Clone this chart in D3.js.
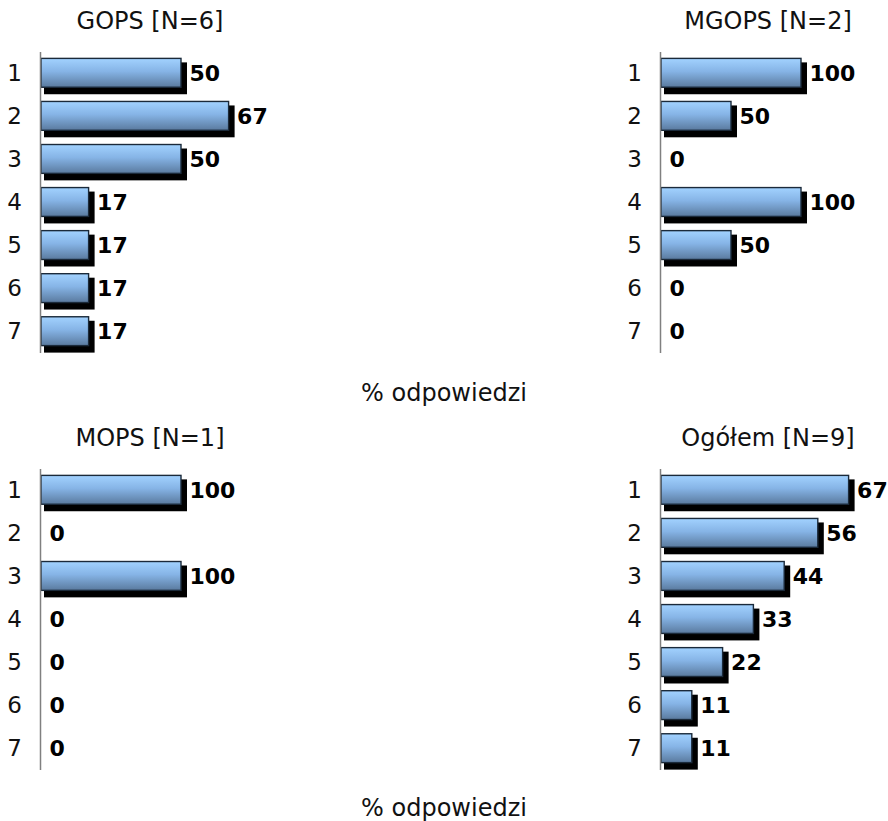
<!DOCTYPE html>
<html>
<head>
<meta charset="utf-8">
<script src="https://cdn.jsdelivr.net/npm/d3@7"></script>
<style>
  html, body { margin: 0; padding: 0; background: #fff; }
  svg { display: block; }
  text { font-family: "DejaVu Sans", Verdana, sans-serif; }
</style>
</head>
<body>
<svg id="chart" width="888" height="821"></svg>
<script>
// Answer categories (rows) shared by every panel
const categories = ["1", "2", "3", "4", "5", "6", "7"];

// Panel titles
const panelTitles = ["GOPS [N=6]", "MGOPS [N=2]", "MOPS [N=1]", "Ogółem [N=9]"];

// Percentage of answers per category, one array per panel
const gopsValues   = [50, 67, 50, 17, 17, 17, 17];
const mgopsValues  = [100, 50, 0, 100, 50, 0, 0];
const mopsValues   = [100, 0, 100, 0, 0, 0, 0];
const ogolemValues = [67, 56, 44, 33, 22, 11, 11];

// Upper end of each panel's value axis
const domainMax = [80, 160, 160, 80];

const axisTitle = "% odpowiedzi";

const series = [gopsValues, mgopsValues, mopsValues, ogolemValues];

const svg = d3.select("#chart");

// Bar fill: light blue at top fading to a darker steel blue
const defs = svg.append("defs");
const grad = defs.append("linearGradient")
  .attr("id", "barFill").attr("x1", 0).attr("y1", 0).attr("x2", 0).attr("y2", 1);
grad.append("stop").attr("offset", "0%").attr("stop-color", "#a2d2ff");
grad.append("stop").attr("offset", "45%").attr("stop-color", "#86b4e6");
grad.append("stop").attr("offset", "100%").attr("stop-color", "#5a7a9e");

// Panel placement: left/right column axis position, top/bottom row offset
const columnAxisX = [40, 660];
const columnTitleX = [150, 768];
const rowOffsetY = [0, 417];
const plotWidth = 224;

series.forEach((values, i) => {
  const col = i % 2, row = Math.floor(i / 2);
  const ax = columnAxisX[col], oy = rowOffsetY[row];

  const g = svg.append("g").attr("transform", `translate(${ax},${oy})`);

  const y = d3.scaleBand().domain(categories).range([51.5, 352.5])
    .paddingInner(0.33).paddingOuter(0.16);
  const x = d3.scaleLinear().domain([0, domainMax[i]]).range([1, 1 + plotWidth]);

  // Panel title
  svg.append("text")
    .attr("x", columnTitleX[col]).attr("y", oy + 29)
    .attr("text-anchor", "middle")
    .style("font-size", "24px")
    .attr("fill", "#111")
    .text(panelTitles[i]);

  const data = categories.map((c, k) => ({ cat: c, v: values[k] }));
  const bars = data.filter(d => d.v > 0);

  // Drop shadows
  g.selectAll("rect.shadow").data(bars).join("rect")
    .attr("class", "shadow")
    .attr("x", x(0) + 3)
    .attr("y", d => y(d.cat) + 4)
    .attr("width", d => x(d.v) - x(0) + 3)
    .attr("height", y.bandwidth() + 3)
    .attr("fill", "#000");

  // Bars
  g.selectAll("rect.bar").data(bars).join("rect")
    .attr("class", "bar")
    .attr("x", x(0))
    .attr("y", d => y(d.cat))
    .attr("width", d => x(d.v) - x(0))
    .attr("height", y.bandwidth())
    .attr("fill", "url(#barFill)")
    .attr("stroke", "#1b2a3a")
    .attr("stroke-width", 1.4);

  // Category axis
  const axis = g.append("g")
    .call(d3.axisLeft(y).tickSize(0).tickSizeOuter(0).tickPadding(18));
  axis.select(".domain").attr("stroke", "#808080").attr("stroke-width", 1.5);
  axis.selectAll(".tick text")
    .attr("fill", "#111")
    .attr("dy", "0.36em")
    .style("font-family", "'DejaVu Sans', Verdana, sans-serif")
    .style("font-size", "23px");

  // Value labels
  g.selectAll("text.value").data(data).join("text")
    .attr("class", "value")
    .attr("x", d => x(d.v) + 8.5)
    .attr("y", d => y(d.cat) + y.bandwidth() / 2)
    .attr("dy", "0.36em")
    .style("font-size", "22px").style("font-weight", "bold")
    .attr("fill", "#000")
    .text(d => d.v);
});

// Value axis titles under each row of panels
[401, 816].forEach(yy => {
  svg.append("text")
    .attr("x", 444).attr("y", yy)
    .attr("text-anchor", "middle")
    .style("font-size", "24px")
    .attr("fill", "#111")
    .text(axisTitle);
});
</script>
</body>
</html>
